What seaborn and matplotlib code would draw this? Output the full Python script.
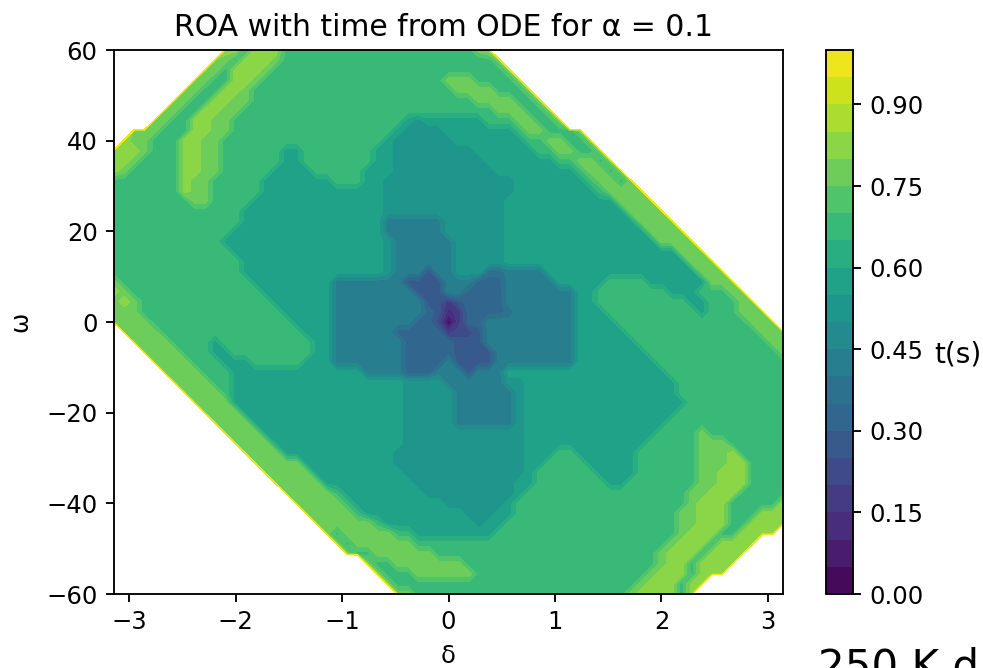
import numpy as np
import seaborn as sns
import matplotlib.pyplot as plt

# tempo, uma linha por omega (60 -> -60), 67 colunas em delta
# cada item = repeticoes + faixa; faixas 0-9,a-j = 0.05 s cada, z = fora da ROA
t_rows = [
    "11z 2g 1d 3g 19d 1f 1g",
    "10z 2f 1d 3g 1f 21d 1f",
    "9z 2f 1d 3g 1f 23d 1f",
    "8z 2f 2d 2g 1f 18d 3f 4d 1f",
    "7z 2f 2d 2g 1f 20d 4f 3d 1f",
    "6z 2f 2d 2g 2f 22d 4f 2d 1f",
    "5z 2f 2d 2g 2f 25d 3f 2d 1f",
    "4z 2f 2d 2g 2f 17d 1b 1a 6b 3d 2f 2d 1f",
    "2z 3f 3d 2g 2f 16d 1b 4a 7b 1d 2f 3d 1f",
    "1z 1g 2f 3d 2g 2f 16d 1b 6a 7b 2d 2f 2d 1f",
    "3g 1f 3d 2g 2f 6d 2b 7d 2b 8a 6b 2d 2f 2d 1f",
    "2g 1f 4d 2g 2f 6d 2b 7d 2b 9a 7b 2d 2f 1d 1f",
    "1g 1f 5d 2g 2f 5d 4b 5d 3b 10a 8b 1d 2f 1d 1f",
    "7d 1g 2f 5d 7b 3d 2b 13a 7b 1d 2f 1d 1f",
    "7d 1g 2f 5d 12b 13a 8b 1d 4f",
    "8d 2f 4d 13b 12a 11b 4f",
    "13d 14b 12a 12b 4f",
    "13d 14b 68 6a 13b 4f",
    "12d 15b 68 6a 14b 4f",
    "11d 16b 1a 68 5a 15b 4f",
    "12d 15b 1a 68 5a 17b 3f",
    "13d 14b 1a 68 5a 18b 3f",
    "13d 14b 1a 38 15 28 3a 27 48 15b 3f",
    "1f 13d 8b 78 45 38 36 58 5b 4d 6b 3f",
    "1g 1f 13d 7b 88 35 28 46 78 2b 7d 3b 3d 2f",
    "1f 1g 1f 13d 6b 98 25 13 15 46 78 2b 9d 2b 3d 2f",
    "3f 14d 5b 98 16 15 12 13 46 17 68 3b 9d 1b 3d 3f",
    "4f 14d 4b 88 26 14 10 13 26 98 4b 13d 3f",
    "1z 4f 14d 3b 68 56 13 14 14 15 98 5b 13d 3f",
    "2z 4f 4d 1b 9d 2b 78 56 35 98 6b 13d 2f",
    "3z 4f 3d 2b 8d 2b 78 56 45 88 7b 13d 1f",
    "4z 4f 3d 3b 5d 3b 78 46 18 45 88 8b 13d",
    "5z 4f 3d 13b 48 36 38 15 38 16b 12d",
    "6z 4f 2d 17b 4a 68 2a 15b 11d",
    "7z 4f 1d 17b 5a 68 1a 15b 11d",
    "8z 4f 17b 5a 68 1a 16b 10d",
    "9z 4f 16b 5a 68 1a 15b 11d",
    "10z 4f 15b 5a 68 1a 14b 12d",
    "11z 4f 14b 12a 13b 4d 1f 8d",
    "12z 4f 13b 12a 12b 5d 3f 6d",
    "13z 4f 11b 13a 3b 2d 6b 6d 3f 1g 5d",
    "14z 5f 9b 13a 2b 4d 5b 6d 3f 2g 4d",
    "15z 5f 9b 12a 1b 6d 4b 6d 2f 3g 4d",
    "16z 5f 9b 10a 2b 7d 2b 7d 2f 3g 4d",
    "17z 5f 1d 8b 9a 1b 16d 2f 3g 5d",
    "18z 5f 1d 9b 6a 1b 17d 1f 3g 5d 1g",
    "19z 5f 1d 10b 3a 2b 16d 2f 3g 3d 3g",
    "20z 6f 1d 9b 1a 2b 17d 2f 3g 2d 4g",
    "21z 1f 1d 5f 2d 8b 18d 1f 3g 2d 4g",
    "22z 1f 1d 6f 25d 1f 3g 1d 4g",
    "23z 1f 2d 6f 22d 1f 3g 1d 4g",
    "25z 1f 2d 7f 19d 1f 2g 1d 4g",
    "26z 1f 3d 6f 17d 1f 3g 1d 3g",
    "27z 1f 24d 1f 3g 1d 2g",
    "28z 2f 21d 1f 4g 1d 1g",
]
bands = "0123456789abcdefghij"
outside_t = 3.0
n_delta = 67

x_ticks = [-3, -2, -1, 0, 1, 2, 3]
y_ticks = [-60, -40, -20, 0, 20, 40, 60]
cbar_ticks = [0.0, 0.15, 0.30, 0.45, 0.60, 0.75, 0.90]


def decode_row(row):
    vals = []
    for item in row.split():
        band = item[-1]
        t = outside_t if band == 'z' else (bands.index(band) + 0.5) * 0.05
        vals += [t] * int(item[:-1])
    vals += [outside_t] * (n_delta - len(vals))
    return vals[:n_delta]


t_grid = np.array([decode_row(r) for r in t_rows])
delta = np.linspace(-np.pi, np.pi, n_delta)
omega = np.linspace(60, -60, len(t_rows))

sns.set_style('ticks', {'axes.edgecolor': 'black', 'text.color': 'black', 'axes.labelcolor': 'black',
                        'xtick.color': 'black', 'ytick.color': 'black'})
plt.rcParams['font.family'] = 'DejaVu Sans'
plt.rcParams['xtick.labelsize'] = 10.4
plt.rcParams['ytick.labelsize'] = 10.4

W, H = 983, 668
fig = plt.figure(figsize=(W / 168, H / 168), dpi=168)
ax = fig.add_axes([114 / W, 1 - 594 / H, 669 / W, 544 / H])
cax = fig.add_axes([826 / W, 1 - 594 / H, 27 / W, 544 / H])

levels = np.arange(0, 1.01, 0.05)
cs = ax.contourf(delta, omega, t_grid, levels=levels, cmap=sns.color_palette('viridis', as_cmap=True))
ax.set_xlim(-np.pi, np.pi)
ax.set_ylim(-60, 60)
ax.set_xticks(x_ticks)
ax.set_yticks(y_ticks)
ax.set_title('ROA with time from ODE for α = 0.1', fontsize=12.8, pad=6, x=0.493)
ax.set_xlabel('δ', fontsize=10.4, labelpad=4)
ax.set_ylabel('ω', fontsize=10.4, labelpad=6)

cb = fig.colorbar(cs, cax=cax, ticks=cbar_ticks)
cb.ax.set_yticklabels([f'{v:.2f}' for v in cbar_ticks])
cb.set_label('t(s)', rotation=0, fontsize=12, ha='center', va='center')
cb.ax.yaxis.set_label_coords((958 - 826) / 27, (594 - 355) / 544)

# texto cortado na borda inferior da figura original
fig.text(818 / W, 1 - 679 / H, '250 K d', fontsize=18, va='baseline', ha='left')

plt.savefig('out.png', dpi=168)
plt.close()
